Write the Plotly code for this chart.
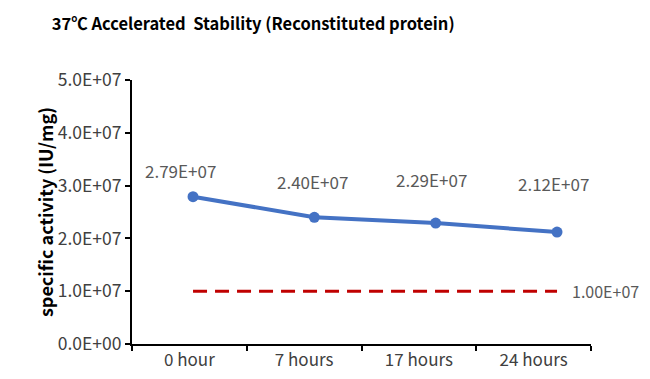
import plotly.graph_objects as go

categories = ["0 hour", "7 hours", "17 hours", "24 hours"]
activity = [2.79e7, 2.40e7, 2.29e7, 2.12e7]
activity_labels = ["2.79E+07", "2.40E+07", "2.29E+07", "2.12E+07"]
spec_limit = [1.0e7, 1.0e7, 1.0e7, 1.0e7]
spec_label = "1.00E+07"
y_tickvals = [0, 1e7, 2e7, 3e7, 4e7, 5e7]
y_ticktext = ["0.0E+00", "1.0E+07", "2.0E+07", "3.0E+07", "4.0E+07", "5.0E+07"]

# label pixel offsets (styling)
label_dx = [-13, -2, -4, -4]
label_dy = [26, 36, 44, 49]

FONT = "Noto Sans CJK SC"
xs = list(range(len(categories)))

# page body has an 8px margin: figure is drawn at (8,8) in the 650x379 window
W, H = 642, 371

fig = go.Figure()
fig.add_trace(go.Scatter(x=categories, y=[None] * 4, xaxis="x", yaxis="y",
                         showlegend=False, hoverinfo="skip"))
fig.add_trace(go.Scatter(x=xs, y=spec_limit, xaxis="x2", yaxis="y", mode="lines",
                         line=dict(color="#C00000", width=3, dash="14px,8px"),
                         showlegend=False))
fig.add_trace(go.Scatter(x=xs, y=activity, xaxis="x2", yaxis="y", mode="lines+markers",
                         line=dict(color="#4472C4", width=4),
                         marker=dict(color="#4472C4", size=11),
                         showlegend=False))

annotations = []
for i, (v, t) in enumerate(zip(activity, activity_labels)):
    annotations.append(dict(x=xs[i], y=v, xref="x2", yref="y", text=t, showarrow=False,
                            xshift=label_dx[i], yshift=label_dy[i],
                            font=dict(family=FONT, size=17, color="#595959")))
annotations.append(dict(x=xs[-1], y=spec_limit[-1], xref="x2", yref="y", text=spec_label,
                        showarrow=False, xanchor="left", xshift=13,
                        font=dict(family=FONT, size=16, color="#595959")))
annotations.append(dict(x=-0.222, y=0.5, xref="paper", yref="paper",
                        text="<b>specific activity (IU/mg)</b>", textangle=-90,
                        showarrow=False, font=dict(family=FONT, size=18, color="#000000")))

fig.update_layout(
    template="none",
    width=W, height=H,
    margin=dict(l=124, r=59, t=72, b=35),
    paper_bgcolor="white", plot_bgcolor="white",
    title=dict(text="<b>37℃ Accelerated  Stability (Reconstituted protein)</b>",
               x=0.264, xref="paper", xanchor="center",
               y=1 - 16 / H, yref="container", yanchor="middle",
               font=dict(family=FONT, size=16.5, color="#000000")),
    xaxis=dict(type="category", range=[-0.5, 3.5], showline=True, linecolor="black",
               linewidth=2, ticks="outside", tickson="boundaries", ticklen=5,
               tickcolor="black", tickwidth=2, showgrid=False, zeroline=False,
               automargin=False,
               tickfont=dict(family=FONT, size=17, color="#404040")),
    xaxis2=dict(overlaying="x", range=[-0.503, 3.28], visible=False),
    yaxis=dict(range=[0, 5e7], tickvals=y_tickvals, ticktext=y_ticktext, showline=True,
               linecolor="black", linewidth=2, ticks="outside", ticklen=5,
               tickcolor="black", tickwidth=2, showgrid=False, zeroline=False,
               automargin=False,
               tickfont=dict(family=FONT, size=17.5, color="#404040")),
    annotations=annotations,
)

fig.write_html("out.html")
